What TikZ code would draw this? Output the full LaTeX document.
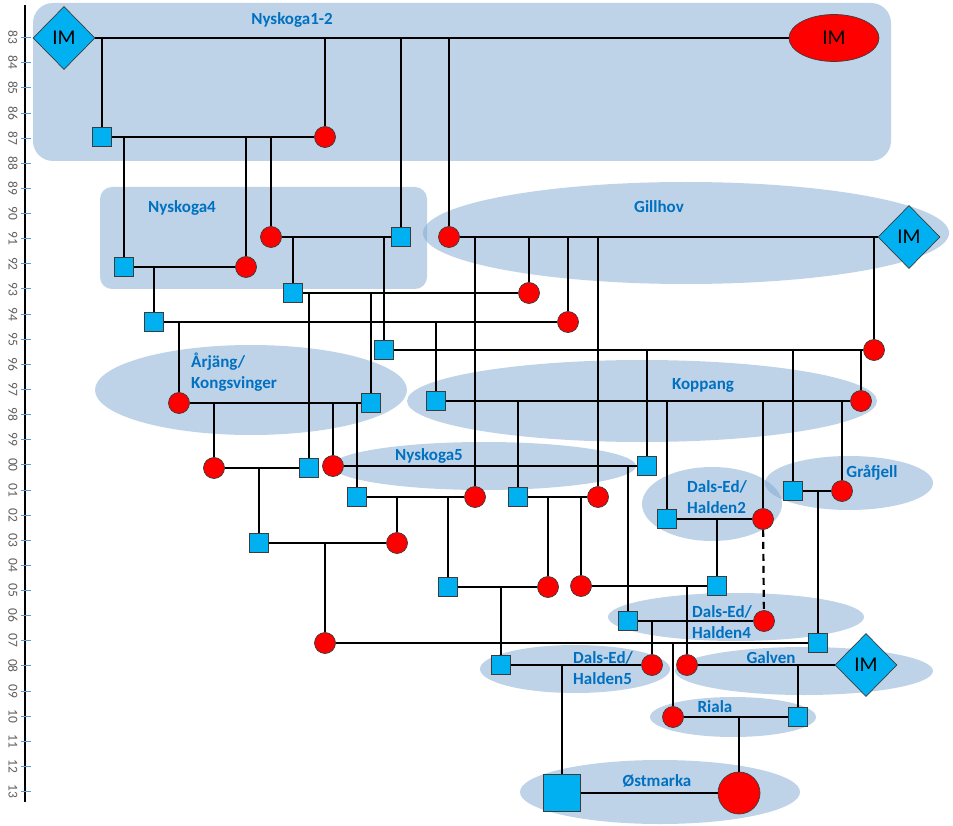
\documentclass[tikz,border=0pt]{standalone}
\usepackage{fontspec}
\setmainfont{Carlito}
\usetikzlibrary{shapes.geometric}

\definecolor{areablue}{RGB}{125,167,209}
\definecolor{malefill}{RGB}{0,176,240}
\definecolor{femalefill}{RGB}{255,0,0}
\definecolor{labelblue}{RGB}{0,112,192}
\definecolor{tickblue}{RGB}{91,155,213}
\definecolor{edgegray}{RGB}{60,60,60}
\definecolor{yeargray}{RGB}{95,95,95}

\begin{document}
\begin{tikzpicture}[x=1pt, y=-1pt,
		male/.style={rectangle, draw=edgegray, line width=0.7pt, fill=malefill, minimum size=19pt, inner sep=0pt},
		female/.style={circle, draw=edgegray, line width=0.7pt, fill=femalefill, minimum size=21pt, inner sep=0pt},
		immale/.style={diamond, draw=edgegray, line width=0.7pt, fill=malefill, minimum width=62pt, minimum height=63pt, inner sep=0pt, font=\fontsize{21}{25}\selectfont},
		imfemale/.style={ellipse, draw=edgegray, line width=0.7pt, fill=femalefill, minimum width=90pt, minimum height=47pt, inner sep=0pt, font=\fontsize{21}{25}\selectfont},
		area/.style={fill=areablue, fill opacity=0.5},
		region/.style={text=labelblue, inner sep=0pt, font=\fontsize{17}{21}\selectfont\bfseries},
		yearlabel/.style={text=yeargray, rotate=-90, inner sep=0pt, font=\fontsize{13.5}{15}\selectfont},
		link/.style={line width=2.2pt}]

	\useasboundingbox (0,0) rectangle (953,826);

	% year axis
	\draw[line width=1.5pt] (25,5) -- (25,802);
	\foreach \i in {0,...,30}
		{
			\pgfmathsetmacro{\ty}{37.7 + 25.13 * \i}
			\pgfmathtruncatemacro{\yr}{mod(83 + \i, 100)}
			\draw[tickblue, line width=1pt] (21,\ty) -- (31,\ty);
			\node[yearlabel] (yr\i) at (13,\ty) {\ifnum\yr<10 0\fi\yr};
		}

	% populations
	\fill[area, rounded corners=20pt] (33,3) rectangle (891,161);
	\fill[area, rounded corners=12pt] (100,187) rectangle (427,289);
	\fill[area] (686,233) ellipse [x radius=263, y radius=51];
	\fill[area] (251,390) ellipse [x radius=156, y radius=45];
	\fill[area] (642,401) ellipse [x radius=235, y radius=41];
	\fill[area] (484,466) ellipse [x radius=152, y radius=24];
	\fill[area] (712,504) ellipse [x radius=70, y radius=37];
	\fill[area] (849,483) ellipse [x radius=84, y radius=27];
	\fill[area] (736,617) ellipse [x radius=128, y radius=24];
	\fill[area] (575,669) ellipse [x radius=95, y radius=24];
	\fill[area] (804,671) ellipse [x radius=129, y radius=24];
	\fill[area] (733,717) ellipse [x radius=83, y radius=20];
	\fill[area] (660,792) ellipse [x radius=140, y radius=32];

	\node[region, anchor=base] (nyskoga12) at (292,25) {Nyskoga1-2};
	\node[region, anchor=base] (nyskoga4) at (182,213) {Nyskoga4};
	\node[region, anchor=base] (gillhov) at (659,213) {Gillhov};
	\node[region, anchor=west, align=left] (arjang) at (191,372) {Årjäng/\\Kongsvinger};
	\node[region, anchor=base] (koppang) at (703,389) {Koppang};
	\node[region, anchor=base] (nyskoga5) at (429,460) {Nyskoga5};
	\node[region, anchor=west, align=left] (halden2) at (687,497) {Dals-Ed/\\Halden2};
	\node[region, anchor=base] (grafjell) at (872,477) {Gråfjell};
	\node[region, anchor=west, align=left] (halden4) at (692,622) {Dals-Ed/\\Halden4};
	\node[region, anchor=west, align=left] (halden5) at (573,668) {Dals-Ed/\\Halden5};
	\node[region, anchor=base] (galven) at (771,663) {Galven};
	\node[region, anchor=base] (riala) at (715,712) {Riala};
	\node[region, anchor=base] (ostmarka) at (657,786) {Østmarka};

	% wolves
	\node[immale] (im1) at (64,38) {IM};
	\node[imfemale] (imf) at (834,38) {IM};
	\node[male] (m87) at (102,137) {};
	\node[female] (f87) at (325,137) {};
	\node[male] (m92) at (124,267) {};
	\node[female] (f92) at (246,267) {};
	\node[female] (f91) at (271,237) {};
	\node[male] (m91) at (401,237) {};
	\node[female] (g91) at (449,237) {};
	\node[immale] (im2) at (909,237) {IM};
	\node[male] (m93) at (293,293) {};
	\node[female] (f93) at (529,293) {};
	\node[male] (m94) at (154,322) {};
	\node[female] (f94) at (568,322) {};
	\node[male] (m95) at (384,350) {};
	\node[female] (f95) at (874,350) {};
	\node[female] (f97) at (179,403) {};
	\node[male] (m97) at (371,403) {};
	\node[male] (m97b) at (436,401) {};
	\node[female] (f97b) at (861,401) {};
	\node[female] (f00) at (214,468) {};
	\node[male] (m00) at (309,468) {};
	\node[female] (f00b) at (333,466) {};
	\node[male] (m00b) at (647,466) {};
	\node[male] (m01) at (357,497) {};
	\node[female] (f01) at (475,497) {};
	\node[male] (m01b) at (518,497) {};
	\node[female] (f01b) at (598,497) {};
	\node[male] (m01c) at (793,491) {};
	\node[female] (f01c) at (842,491) {};
	\node[male] (m02) at (667,519) {};
	\node[female] (f02) at (763,519) {};
	\node[male] (m03) at (259,543) {};
	\node[female] (f03) at (397,543) {};
	\node[male] (m05) at (448,587) {};
	\node[female] (f05) at (548,587) {};
	\node[female] (f05b) at (581,586) {};
	\node[male] (m05b) at (717,586) {};
	\node[male] (m06) at (628,621) {};
	\node[female] (f06) at (764,621) {};
	\node[female] (f07) at (325,643) {};
	\node[male] (m07) at (818,643) {};
	\node[male] (m08) at (501,665) {};
	\node[female] (f08) at (652,665) {};
	\node[female] (f08b) at (687,665) {};
	\node[immale] (im3) at (866,665) {IM};
	\node[female] (f10) at (673,717) {};
	\node[male] (m10) at (798,717) {};
	\node[male, minimum size=37pt] (m13) at (562,793) {};
	\node[female, minimum size=42pt] (f13) at (739,793) {};

	% pairs
	\foreach \a/\b in {im1/imf, m87/f87, m92/f92, f91/m91, g91/im2, m93/f93, m94/f94, m95/f95,
			f97/m97, m97b/f97b, f00/m00, f00b/m00b, m01/f01, m01b/f01b, m01c/f01c, m02/f02,
			m03/f03, m05/f05, f05b/m05b, m06/f06, f07/m07, m08/f08, f08b/im3, f10/m10, m13/f13}
		\draw[link] (\a) -- (\b);

	% offspring, up to the line of the parents
	\foreach \kid/\up in {m87/im1, f87/im1, m91/im1, g91/im1, m92/m87, f92/m87, f91/m87, m94/m92,
			m93/f91, m95/f91, f93/g91, f94/g91, f01/g91, f01b/g91, f95/g91, f97/m94, m97b/m94,
			m00/m93, m97/m93, f00/f97, f00b/f97, m01/f97, m01b/m97b, m02/m97b, f02/m97b, f01c/m97b,
			m00b/m95, m01c/m95, f97b/m95, m03/f00, m06/f00b, f03/m01, m05/m01, f05/m01b, f05b/m01b,
			m05b/m02, m07/m01c, f07/m03, m08/m05, f08b/f05b, f08/m06, f10/f07, m10/f08b, m13/m08, f13/f10}
		\draw[link] (\kid) -- (\kid |- \up);

	\draw[link, dash pattern=on 7pt off 5pt] (f02) -- (f06);
\end{tikzpicture}
\end{document}
